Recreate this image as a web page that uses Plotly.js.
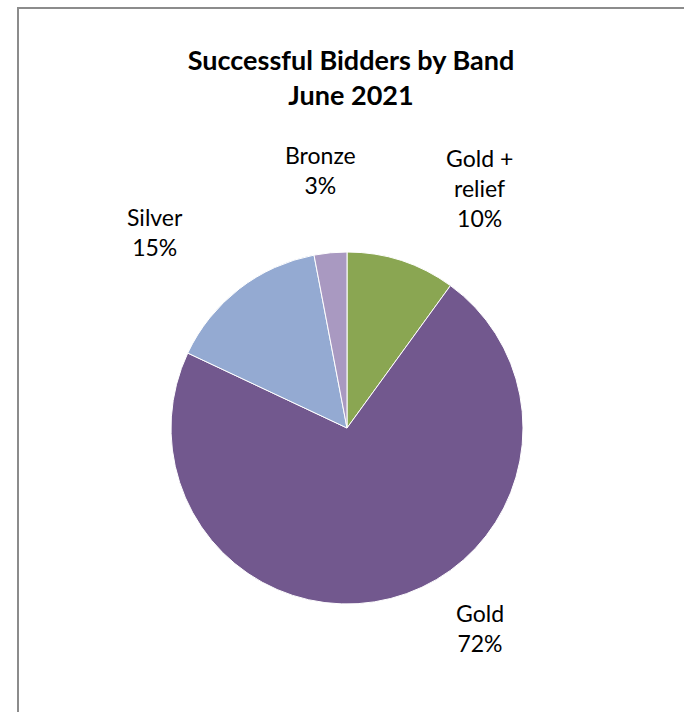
<!DOCTYPE html>
<html>
<head>
<meta charset="utf-8">
<script src="https://cdn.plot.ly/plotly-3.0.1.min.js"></script>
<style>
  html, body { margin: 0; padding: 0; background: #ffffff; }
  #chart { width: 684px; height: 712px; }
</style>
</head>
<body>
<div id="chart"></div>
<script>
// ---- data ----
const bands = ["Gold + relief", "Gold", "Silver", "Bronze"];
const bandLabels = ["Gold +<br>relief", "Gold", "Silver", "Bronze"];
const shares = [10, 72, 15, 3];
const colors = ["#8AA652", "#72588E", "#94AAD2", "#A999C1"];

// ---- label placement (pixel centres in the 684x712 page) ----
const labelPx = [[479, 188], [480, 628], [155, 232], [320, 170]];
const W = 684, H = 712;

const total = shares.reduce((a, b) => a + b, 0);
const annotations = bands.map((b, i) => ({
  xref: "paper", yref: "paper",
  x: labelPx[i][0] / W, y: 1 - labelPx[i][1] / H,
  xanchor: "center", yanchor: "middle",
  text: bandLabels[i] + "<br>" + Math.round(shares[i] / total * 100) + "%",
  showarrow: false,
  align: "center",
  font: { family: "Lato, 'Open Sans', sans-serif", size: 23, color: "#000000" }
}));

const cx = 347, cy = 428, r = 176;
const trace = {
  type: "pie",
  labels: bands,
  values: shares,
  sort: false,
  direction: "clockwise",
  rotation: 0,
  marker: { colors: colors, line: { color: "#ffffff", width: 1 } },
  textinfo: "none",
  hoverinfo: "label+percent",
  showlegend: false,
  domain: { x: [(cx - r) / W, (cx + r) / W], y: [1 - (cy + r) / H, 1 - (cy - r) / H] }
};

const layout = {
  width: W, height: H,
  margin: { l: 0, r: 0, t: 0, b: 0 },
  paper_bgcolor: "#ffffff",
  plot_bgcolor: "#ffffff",
  title: {
    text: "<b>Successful Bidders by Band<br>June 2021</b>",
    x: 351 / W, xanchor: "center",
    y: 1 - 70 / H, yanchor: "top",
    font: { family: "Lato, 'Open Sans', sans-serif", size: 27, color: "#000000" }
  },
  annotations: annotations,
  shapes: [{
    type: "rect", xref: "paper", yref: "paper",
    x0: 18 / W, x1: 1.05, y0: -0.05, y1: 1 - 8 / H,
    line: { color: "#8C8C8C", width: 2 },
    fillcolor: "rgba(0,0,0,0)"
  }]
};

Plotly.newPlot("chart", [trace], layout, { displayModeBar: false, staticPlot: true });
</script>
</body>
</html>
